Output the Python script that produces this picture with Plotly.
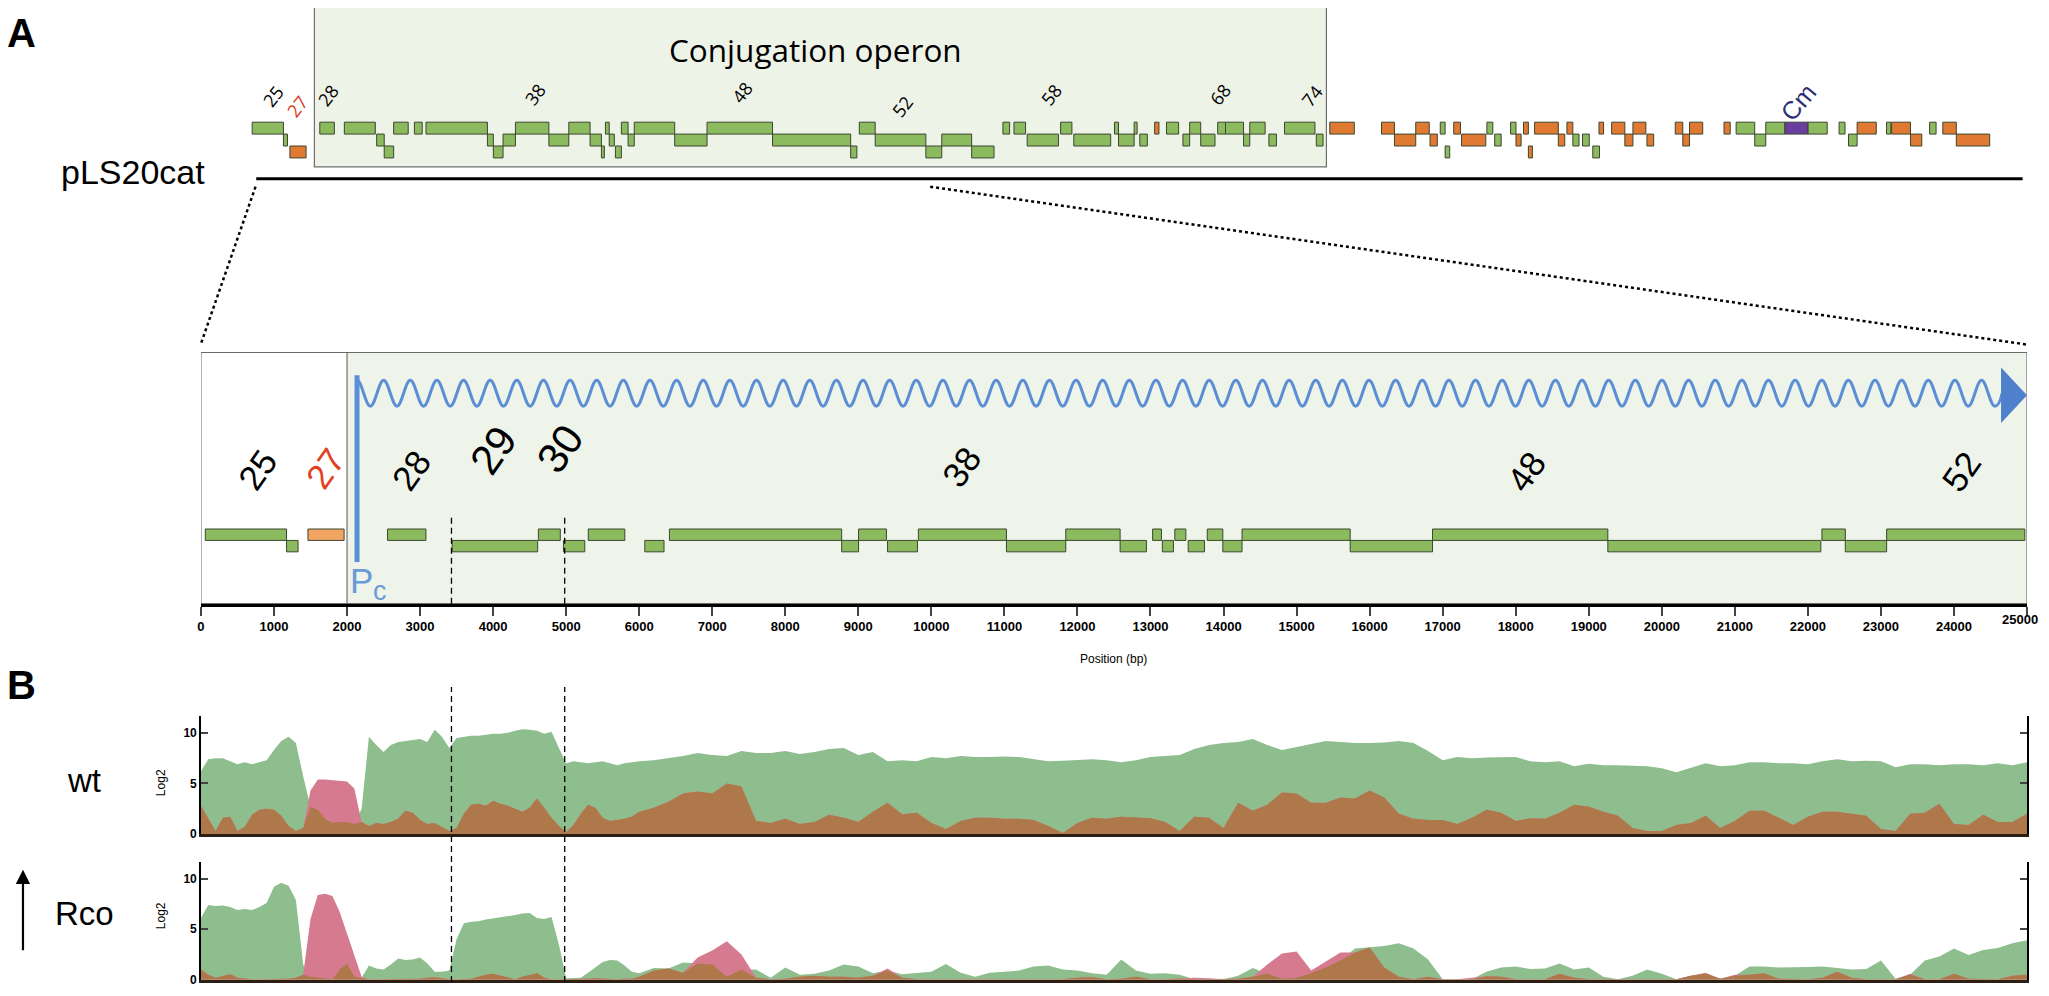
import numpy as np
import plotly.graph_objects as go

# the page body keeps an 8px margin, so the figure is drawn 8px in from the
# top-left corner; all positions below are in screen pixels of the 2049x996 shot
OFF = 8
FW, FH = 2049 - 2 * OFF, 996 - 2 * OFF


def px(x):
    return (x - OFF) / FW


def py(y):
    return 1 - (y - OFF) / FH


ARIAL = "Liberation Sans, Arial, sans-serif"
MYRIAD = "Open Sans, Noto Sans, sans-serif"

GENE_COLORS = {"g": "#8cba5e", "o": "#e07a32", "o2": "#f2a462", "p": "#6a3d9f"}

# ---- panel A: whole plasmid map (kb) ----
plasmid_span = [0.1, 65.65]
top_start = [-0.05, 1.11, 1.35, 2.46, 3.37, 4.57, 4.85, 5.20, 5.97, 6.40,
             8.68, 8.90, 9.26, 9.72, 10.96, 11.70, 12.49, 12.91, 13.06, 13.20,
             13.43, 13.65, 13.90, 14.13, 15.63, 16.83, 19.26, 22.16, 22.48, 23.07,
             24.95, 25.54, 26.65, 27.81, 28.22, 28.71, 29.95, 30.44, 31.95, 32.10,
             32.68, 32.89, 33.44, 33.88, 34.49, 34.74, 35.15, 35.78, 36.07, 36.74,
             36.97, 37.68, 38.26, 39.44, 39.94, 41.86, 42.34, 43.13, 43.66, 44.04,
             44.22, 44.54, 44.83, 45.77, 46.06, 46.65, 46.85, 47.13, 47.31, 47.54,
             48.42, 48.74, 48.96, 49.32, 49.70, 49.93, 50.40, 50.89, 51.19, 51.71,
             52.76, 53.04, 53.29, 54.57, 55.02, 55.71, 56.12, 56.83, 57.69, 58.84,
             59.19, 59.51, 60.60, 60.79, 61.49, 62.20, 62.69, 63.19]
top_end = [1.11, 1.26, 1.95, 3.00, 4.52, 4.85, 5.20, 5.74, 6.26, 8.68,
           8.90, 9.26, 9.72, 10.96, 11.70, 12.49, 12.91, 13.02, 13.20, 13.39,
           13.65, 13.90, 14.13, 15.63, 16.83, 19.26, 22.16, 22.39, 23.07, 24.95,
           25.54, 26.65, 27.48, 28.06, 28.65, 29.87, 30.37, 31.81, 32.10, 32.68,
           32.79, 33.17, 33.60, 34.33, 34.74, 35.15, 35.68, 36.07, 36.74, 36.97,
           37.54, 37.96, 39.39, 39.69, 40.85, 42.34, 43.13, 43.63, 43.93, 44.22,
           44.39, 44.79, 45.73, 45.99, 46.30, 46.85, 47.04, 47.31, 47.46, 48.42,
           48.66, 48.96, 49.19, 49.57, 49.95, 50.10, 50.89, 51.19, 51.67, 51.96,
           53.04, 53.29, 53.78, 54.80, 55.71, 56.12, 56.83, 57.69, 58.40, 59.06,
           59.51, 60.22, 60.76, 61.49, 61.91, 62.44, 63.19, 64.43]
top_row = [0, 1, 2, 0, 0, 1, 2, 0, 0, 0,
           1, 2, 1, 0, 1, 0, 1, 2, 0, 1,
           2, 0, 1, 0, 1, 0, 1, 2, 0, 1,
           2, 1, 2, 0, 0, 1, 0, 1, 0, 1,
           0, 1, 0, 0, 1, 0, 1, 0, 0, 1,
           0, 1, 0, 1, 0, 0, 1, 0, 1, 0,
           2, 0, 1, 0, 1, 0, 1, 0, 2, 0,
           1, 0, 1, 1, 2, 0, 0, 1, 0, 1,
           0, 1, 0, 0, 0, 1, 0, 0, 0, 0,
           1, 0, 0, 0, 1, 0, 0, 1]
top_kind = ["g", "g", "o", "g", "g", "g", "g", "g", "g", "g",
            "g", "g", "g", "g", "g", "g", "g", "g", "g", "g",
            "g", "g", "g", "g", "g", "g", "g", "g", "g", "g",
            "g", "g", "g", "g", "g", "g", "g", "g", "g", "g",
            "g", "g", "o", "g", "g", "g", "g", "g", "g", "g",
            "g", "g", "g", "g", "o", "o", "o", "o", "o", "g",
            "g", "o", "o", "g", "g", "g", "o", "o", "o", "o",
            "o", "o", "g", "g", "g", "o", "o", "o", "o", "o",
            "o", "o", "o", "o", "g", "g", "g", "p", "g", "g",
            "g", "o", "g", "o", "o", "g", "o", "o"]
top_label_text = ["25", "27", "28", "38", "48", "52", "58", "68", "74"]
top_label_kb = [0.73, 1.63, 2.78, 10.46, 18.15, 24.09, 29.63, 35.89, 39.28]
top_label_ypx = [97, 107, 96, 95, 93, 107, 95, 95, 97]

# ---- panel A: zoom on the first 25 kb (bp) ----
zoom_start = [60, 1172, 1465, 2555, 3440, 4620, 4963, 5303, 6077, 6414,
              8772, 9003, 9400, 9822, 11028, 11840, 12584, 13029, 13162, 13333,
              13516, 13777, 13990, 14253, 15734, 16861, 19261, 22192, 22512, 23078]
zoom_end = [1172, 1330, 1960, 3080, 4610, 4920, 5255, 5803, 6340, 8772,
            9003, 9385, 9810, 11028, 11840, 12584, 12944, 13150, 13314, 13484,
            13739, 13990, 14253, 15734, 16861, 19261, 22177, 22512, 23078, 24970]
zoom_row = [0, 1, 0, 0, 1, 0, 1, 0, 1, 0,
            1, 0, 1, 0, 1, 0, 1, 0, 1, 0,
            1, 0, 1, 0, 1, 0, 1, 0, 1, 0]
zoom_kind = ["g", "g", "o2"] + ["g"] * 27
zoom_label_text = ["25", "27", "28", "29", "30", "38", "48", "52"]
zoom_label_bp = [777, 1702, 2877, 4012, 4921, 10417, 18146, 24101]
zoom_tick_bp = [0, 1000, 2000, 3000, 4000, 5000, 6000, 7000, 8000, 9000,
                10000, 11000, 12000, 13000, 14000, 15000, 16000, 17000, 18000,
                19000, 20000, 21000, 22000, 23000, 24000, 25000]
promoter_bp = 2137
rco_site_bp = [3430, 4980]

# ---- panel B: coverage (Log2) ----
position_bp = [
    0, 100, 200, 300, 400, 500, 600, 700, 800, 900,
    1000, 1100, 1200, 1300, 1400, 1500, 1600, 1700, 1800, 1900,
    2000, 2100, 2200, 2300, 2400, 2500, 2600, 2700, 2800, 2900,
    3000, 3100, 3200, 3300, 3400, 3500, 3600, 3700, 3800, 3900,
    4000, 4100, 4200, 4300, 4400, 4500, 4600, 4700, 4800, 4900,
    5000, 5100, 5200, 5300, 5400, 5500, 5600, 5700, 5800, 5900,
    6000,
    6200, 6400, 6600, 6800, 7000, 7200, 7400, 7600, 7800, 8000,
    8200, 8400, 8600, 8800, 9000, 9200, 9400, 9600, 9800, 10000,
    10200, 10400, 10600, 10800, 11000, 11200, 11400, 11600, 11800, 12000,
    12200, 12400, 12600, 12800, 13000, 13200, 13400, 13600, 13800, 14000,
    14200, 14400, 14600, 14800, 15000, 15200, 15400, 15600, 15800, 16000,
    16200, 16400, 16600, 16800, 17000, 17200, 17400, 17600, 17800, 18000,
    18200, 18400, 18600, 18800, 19000, 19200, 19400, 19600, 19800, 20000,
    20200, 20400, 20600, 20800, 21000, 21200, 21400, 21600, 21800, 22000,
    22200, 22400, 22600, 22800, 23000, 23200, 23400, 23600, 23800, 24000,
    24200, 24400, 24600, 24800, 25000]

wt_plus = [
    6.2, 7.4, 7.5, 7.5, 7.2, 6.9, 7.1, 6.9, 7.1, 7.3,
    8.3, 9.2, 9.6, 9.0, 5.7, 2.7, 2.4, 1.5, 1.1, 1.2,
    1.2, 1.0, 2.5, 9.6, 8.8, 8.1, 8.8, 9.1, 9.2, 9.3,
    9.4, 9.1, 10.3, 9.6, 8.5, 9.5, 9.6, 9.7, 9.7, 9.8,
    9.9, 9.9, 10.0, 10.2, 10.35, 10.3, 10.2, 9.9, 10.1, 8.5,
    7.0, 7.2, 7.1, 7.0, 7.1, 7.2, 7.0, 6.8, 7.0, 7.1,
    7.2,
    7.3, 7.5, 7.7, 8.0, 7.8, 7.7, 8.2, 8.0, 8.0, 8.2,
    7.9, 8.1, 8.4, 8.5, 7.8, 8.1, 7.2, 7.3, 7.2, 7.6,
    7.5, 7.7, 7.6, 7.6, 7.65, 7.6, 7.4, 7.2, 7.25, 7.3,
    7.4, 7.3, 7.1, 7.3, 7.6, 7.7, 7.8, 8.4, 8.8, 9.0,
    9.1, 9.4, 8.8, 8.3, 8.6, 8.9, 9.2, 9.1, 9.0, 9.0,
    9.05, 9.2, 9.0, 8.2, 7.3, 7.6, 7.5, 7.55, 7.6, 7.6,
    7.2, 7.1, 7.2, 6.7, 6.95, 6.8, 6.8, 6.75, 6.7, 6.5,
    6.1, 6.55, 7.0, 6.7, 6.8, 7.1, 7.1, 7.0, 7.0, 6.9,
    7.2, 7.4, 7.2, 7.25, 7.2, 6.6, 6.9, 6.9, 6.8, 6.9,
    6.9, 6.8, 7.0, 6.8, 7.1]
wt_minus = [
    2.8, 1.5, 0.3, 1.6, 1.7, 0.3, 0.7, 1.9, 2.4, 2.5,
    2.4, 1.8, 0.8, 0.3, 0.6, 4.3, 5.4, 5.4, 5.35, 5.3,
    5.2, 4.5, 1.2, 0.8, 1.1, 1.0, 1.2, 1.5, 2.3, 2.1,
    1.4, 1.0, 1.1, 0.7, 0.3, 0.6, 2.0, 2.9, 3.0, 2.8,
    3.3, 3.0, 2.8, 2.5, 2.2, 2.6, 3.5, 2.6, 1.6, 0.8,
    0.2, 0.9, 2.0, 2.9, 2.6, 1.6, 1.3, 1.4, 1.5, 1.7,
    2.2,
    2.6, 3.2, 4.0, 4.2, 4.0, 5.0, 4.7, 1.3, 1.1, 1.5,
    1.0, 1.2, 1.9, 1.6, 1.2, 2.2, 3.1, 1.95, 2.1, 1.1,
    0.5, 1.3, 1.6, 1.6, 1.5, 1.5, 1.4, 0.8, 0.1, 1.1,
    1.6, 1.5, 1.7, 1.6, 1.55, 1.2, 0.3, 1.7, 1.6, 0.6,
    3.1, 2.3, 2.9, 4.1, 4.0, 3.1, 3.1, 3.6, 3.5, 4.3,
    3.6, 2.0, 1.5, 1.4, 1.4, 1.0, 1.6, 2.4, 2.1, 1.3,
    1.55, 1.5, 2.1, 2.9, 2.7, 2.2, 1.8, 0.6, 0.3, 0.3,
    0.9, 1.1, 1.8, 0.6, 1.3, 2.3, 2.3, 1.6, 0.9, 1.7,
    2.2, 2.2, 2.0, 1.8, 0.5, 0.3, 2.0, 2.1, 3.0, 1.0,
    0.9, 1.9, 1.2, 1.2, 2.0]
rco_plus = [
    6.1, 7.4, 7.3, 7.35, 7.2, 6.9, 7.0, 6.9, 7.2, 7.6,
    9.2, 9.6, 9.3, 7.9, 1.5, 0.3, 0.2, 0.1, 0.05, 1.0,
    1.6, 0.3, 0.2, 1.4, 1.1, 1.0, 1.5, 2.1, 1.95, 2.0,
    2.2, 1.6, 0.8, 0.8, 0.9, 4.0, 5.6, 5.75, 5.8, 5.95,
    6.05, 6.2, 6.25, 6.4, 6.55, 6.6, 6.1, 6.0, 6.2, 3.5,
    0.15, 0.15, 0.2, 0.7, 1.25, 1.75, 1.95, 1.9, 1.4, 0.8,
    0.65,
    1.15, 1.1, 1.7, 1.6, 1.5, 0.3, 1.0, 1.0, 0.2, 1.2,
    0.5, 0.6, 0.9, 1.5, 1.3, 0.65, 0.9, 0.55, 0.65, 0.8,
    1.55, 0.7, 0.3, 0.7, 0.8, 0.9, 1.3, 1.4, 1.0, 0.9,
    0.65, 0.5, 2.0, 0.9, 0.6, 0.65, 0.5, 0.05, 0.05, 0.05,
    0.4, 1.15, 0.6, 0.1, 0.2, 0.65, 1.2, 1.9, 3.1, 3.2,
    3.35, 3.6, 3.1, 2.0, 0.05, 0.05, 0.05, 0.8, 1.2, 1.3,
    1.05, 1.1, 1.6, 1.0, 1.2, 0.3, 0.05, 0.4, 1.0, 0.6,
    0.05, 0.4, 0.6, 0.1, 0.4, 1.3, 1.3, 1.2, 1.2, 1.25,
    1.3, 1.15, 1.0, 1.05, 1.9, 0.1, 0.5, 1.9, 2.3, 3.1,
    2.45, 2.95, 3.15, 3.6, 3.9]
rco_minus = [
    1.0, 0.5, 0.2, 0.4, 0.55, 0.2, 0.1, 0.05, 0.05, 0.05,
    0.05, 0.05, 0.1, 0.2, 0.5, 6.0, 8.4, 8.5, 8.3, 6.7,
    4.5, 2.5, 0.3, 0.05, 0.05, 0.05, 0.05, 0.05, 0.05, 0.05,
    0.1, 0.2, 0.25, 0.15, 0.05, 0.05, 0.05, 0.1, 0.3, 0.5,
    0.6, 0.4, 0.2, 0.05, 0.3, 0.5, 0.65, 0.2, 0.05, 0.05,
    0.05, 0.05, 0.05, 0.1, 0.15, 0.1, 0.05, 0.05, 0.1, 0.1,
    0.3,
    0.9, 1.1, 0.7, 2.2, 2.9, 3.8, 2.5, 0.2, 0.05, 0.1,
    0.3, 0.4, 0.3, 0.3, 0.2, 0.4, 1.1, 0.2, 0.05, 0.05,
    0.05, 0.05, 0.05, 0.05, 0.05, 0.05, 0.05, 0.05, 0.05, 0.2,
    0.25, 0.05, 0.1, 0.3, 0.05, 0.05, 0.1, 0.2, 0.15, 0.05,
    0.1, 0.3, 1.5, 2.6, 2.8, 0.9, 1.8, 2.7, 2.7, 3.2,
    1.2, 0.3, 0.05, 0.3, 0.05, 0.05, 0.2, 0.35, 0.3, 0.05,
    0.05, 0.05, 0.6, 0.2, 0.05, 0.05, 0.05, 0.05, 0.05, 0.05,
    0.05, 0.4, 0.7, 0.1, 0.5, 0.5, 0.65, 0.1, 0.05, 0.05,
    0.2, 0.8, 0.2, 0.05, 0.05, 0.05, 0.6, 0.05, 0.05, 0.6,
    0.1, 0.05, 0.05, 0.4, 0.5]

GREEN = "#8ebd8e"
PINK = "#d67b8f"
BROWN = "#af784b"

fig = go.Figure()

# gene boxes, whole plasmid
fig.add_trace(go.Bar(
    orientation="h", base=top_start,
    x=[e - s for s, e in zip(top_start, top_end)], y=top_row, width=1,
    marker=dict(color=[GENE_COLORS[k] for k in top_kind],
                line=dict(color="#3c4630", width=1)),
    xaxis="x", yaxis="y", hoverinfo="skip"))

# gene boxes, zoomed 25 kb
fig.add_trace(go.Bar(
    orientation="h", base=zoom_start,
    x=[e - s for s, e in zip(zoom_start, zoom_end)], y=zoom_row, width=1,
    marker=dict(color=[GENE_COLORS[k] for k in zoom_kind],
                line=dict(color="#3c4630", width=1)),
    xaxis="x2", yaxis="y2", hoverinfo="skip"))


def coverage(plus, minus, xa, ya):
    plus = np.array(plus)
    minus = np.array(minus)
    both = np.minimum(plus, minus)
    for vals, col in [(plus, GREEN), (minus, PINK), (both, BROWN)]:
        fig.add_trace(go.Scatter(
            x=position_bp, y=vals, mode="lines", line=dict(width=0),
            fill="tozeroy", fillcolor=col, xaxis=xa, yaxis=ya,
            hoverinfo="skip"))


coverage(wt_plus, wt_minus, "x3", "y3")
coverage(rco_plus, rco_minus, "x4", "y4")

# ---- shapes ----
AX_Y = 608  # zoom panel axis line
shapes = []
shapes.append(dict(type="rect", xref="paper", yref="paper",
                   x0=px(311), x1=px(1325), y0=py(168), y1=py(4),
                   fillcolor="#eef3e8", line=dict(color="#6f6f6f", width=1.2),
                   layer="below"))
shapes.append(dict(type="line", xref="x", yref="paper",
                   x0=plasmid_span[0], x1=plasmid_span[1], y0=py(180), y1=py(180),
                   line=dict(color="black", width=3)))
shapes.append(dict(type="line", xref="paper", yref="paper",
                   x0=px(252), y0=py(188), x1=px(197), y1=py(347),
                   line=dict(color="black", width=2.5, dash="dot")))
shapes.append(dict(type="line", xref="paper", yref="paper",
                   x0=px(928), y0=py(188), x1=px(2027), y1=py(347),
                   line=dict(color="black", width=2.5, dash="dot")))
shapes.append(dict(type="rect", xref="x2", yref="paper",
                   x0=2000, x1=25000, y0=py(AX_Y), y1=py(355),
                   fillcolor="#eef4ea", line=dict(width=0), layer="below"))
shapes.append(dict(type="rect", xref="x2", yref="paper",
                   x0=0, x1=25000, y0=py(AX_Y), y1=py(355),
                   line=dict(color="#6a6a6a", width=1.2), layer="below"))
shapes.append(dict(type="line", xref="x2", yref="paper",
                   x0=2000, x1=2000, y0=py(AX_Y), y1=py(355),
                   line=dict(color="#555555", width=1), layer="below"))
shapes.append(dict(type="line", xref="x2", yref="paper",
                   x0=promoter_bp, x1=promoter_bp, y0=py(566), y1=py(378),
                   line=dict(color="#5b8fd6", width=5)))
# transcript wave
yc, amp, half = 396, 13, 182.3
path = f"M {promoter_bp},{py(yc - amp)}"
x = promoter_bp
for i in range(123):
    y_from = yc - amp if i % 2 == 0 else yc + amp
    y_to = yc + amp if i % 2 == 0 else yc - amp
    path += (f" C {x + 0.3642 * half},{py(y_from)} {x + 0.6358 * half},{py(y_to)}"
             f" {x + half},{py(y_to)}")
    x += half
path += f" Q {x + 60},{py(yc + amp)} {x + 100},{py(yc)}"
shapes.append(dict(type="path", xref="x2", yref="paper", path=path,
                   line=dict(color="#5b8ed4", width=3)))
shapes.append(dict(type="path", xref="paper", yref="paper",
                   path=f"M {px(2001)},{py(370)} L {px(2001)},{py(426)} L {px(2027)},{py(398)} Z",
                   fillcolor="#4f80cc", line=dict(width=0)))
for b in rco_site_bp:
    shapes.append(dict(type="line", xref="x2", yref="paper",
                       x0=b, x1=b, y0=py(AX_Y), y1=py(518),
                       line=dict(color="black", width=1.3, dash="6px,4px")))
    shapes.append(dict(type="line", xref="x3", yref="paper",
                       x0=b, x1=b, y0=py(989), y1=py(692),
                       line=dict(color="black", width=1.3, dash="6px,4px")))

# ---- annotations ----
ann = []


def text(x, y, s, size, color="black", family=ARIAL, angle=0, xref="paper",
         xanchor="center", weight="normal"):
    ann.append(dict(x=x, y=y, xref=xref, yref="paper", text=s, showarrow=False,
                    font=dict(size=size, color=color, family=family, weight=weight),
                    textangle=angle, xanchor=xanchor, yanchor="middle"))


text(px(18), py(33), "<b>A</b>", 40)
text(px(18), py(690), "<b>B</b>", 40)
text(px(129), py(173), "pLS20cat", 34)
text(px(813), py(50), "Conjugation operon", 31.5, family=MYRIAD)
for s, k, yy in zip(top_label_text, top_label_kb, top_label_ypx):
    text(k, py(yy), s, 18, color="#d9391c" if s == "27" else "black",
         family=MYRIAD, angle=-52, xref="x")
text(57.33, py(103), "Cm", 25, color="#2c2f73", angle=-50, xref="x")

zoom_label_ypx = [473, 472, 474, 453, 452, 470, 475, 475]
for s, b, yy in zip(zoom_label_text, zoom_label_bp, zoom_label_ypx):
    big = s in ("29", "30")
    text(b, py(yy), s, 42 if big else 35,
         color="#e2401f" if s == "27" else "black", angle=-55, xref="x2")
text(px(358), py(585), "P", 35, color="#6a9ad8")
text(px(377), py(595), "c", 27, color="#6a9ad8")
text(px(1112), py(664), "Position (bp)", 12)
# last axis label sits at the page edge: place it by hand so it is not dropped
text(px(2040), py(624), str(zoom_tick_bp[-1]), 13, xanchor="right",
     weight="bold")

text(px(80), py(786), "wt", 33)
text(px(81), py(920), "Rco", 33)
text(px(158), py(788), "Log2", 12, angle=-90)
text(px(158), py(922), "Log2", 12, angle=-90)
ann.append(dict(x=px(19), y=py(876), xref="paper", yref="paper", ax=0, ay=82,
                text="", showarrow=True, arrowhead=2, arrowsize=1.3,
                arrowwidth=2.2, arrowcolor="black"))

tickfont = dict(family=ARIAL, size=13, color="black", weight="bold")
xdom = [px(197.3), px(2027)]
yaxis_cov = dict(showline=True, linecolor="black", linewidth=1.5, mirror="ticks",
                 ticks="inside", ticklen=7, tickwidth=1.5, tickvals=[0, 5, 10],
                 tickfont=dict(family=ARIAL, size=12, color="black", weight="bold"),
                 showgrid=False, zeroline=False)
xaxis_cov = dict(domain=xdom, range=[0, 25000], showline=True, linecolor="#2b1f14",
                 linewidth=3, showticklabels=False, ticks="", showgrid=False,
                 zeroline=False)

fig.update_layout(
    width=FW, height=FH, margin=dict(l=0, r=0, t=0, b=0),
    paper_bgcolor="white", plot_bgcolor="rgba(0,0,0,0)",
    showlegend=False, barmode="overlay",
    xaxis=dict(domain=[0, 1], range=[(OFF - 250) / 27, (OFF + FW - 250) / 27],
               visible=False, anchor="y"),
    yaxis=dict(domain=[py(200), 1], range=[(200 - 129) / 12, (OFF - 129) / 12],
               visible=False, anchor="x"),
    xaxis2=dict(domain=xdom, range=[0, 25000], anchor="y2", showline=True,
                linecolor="black", linewidth=3, ticks="outside", ticklen=9,
                tickwidth=1.5, tickvals=zoom_tick_bp,
                ticktext=[str(t) for t in zoom_tick_bp[:-1]] + [""],
                tickfont=tickfont, showgrid=False, zeroline=False),
    yaxis2=dict(domain=[py(AX_Y), py(355)],
                range=[(AX_Y - 538.5) / 11.5, (355 - 538.5) / 11.5],
                visible=False, anchor="x2"),
    xaxis3=dict(anchor="y3", **xaxis_cov),
    yaxis3=dict(domain=[py(840), py(720.7)], range=[0, 11.7], anchor="x3",
                **yaxis_cov),
    xaxis4=dict(anchor="y4", **xaxis_cov),
    yaxis4=dict(domain=[py(986.7), py(868)], range=[0, 11.67], anchor="x4",
                **yaxis_cov),
    shapes=shapes, annotations=ann,
)

fig.write_html("out.html")
